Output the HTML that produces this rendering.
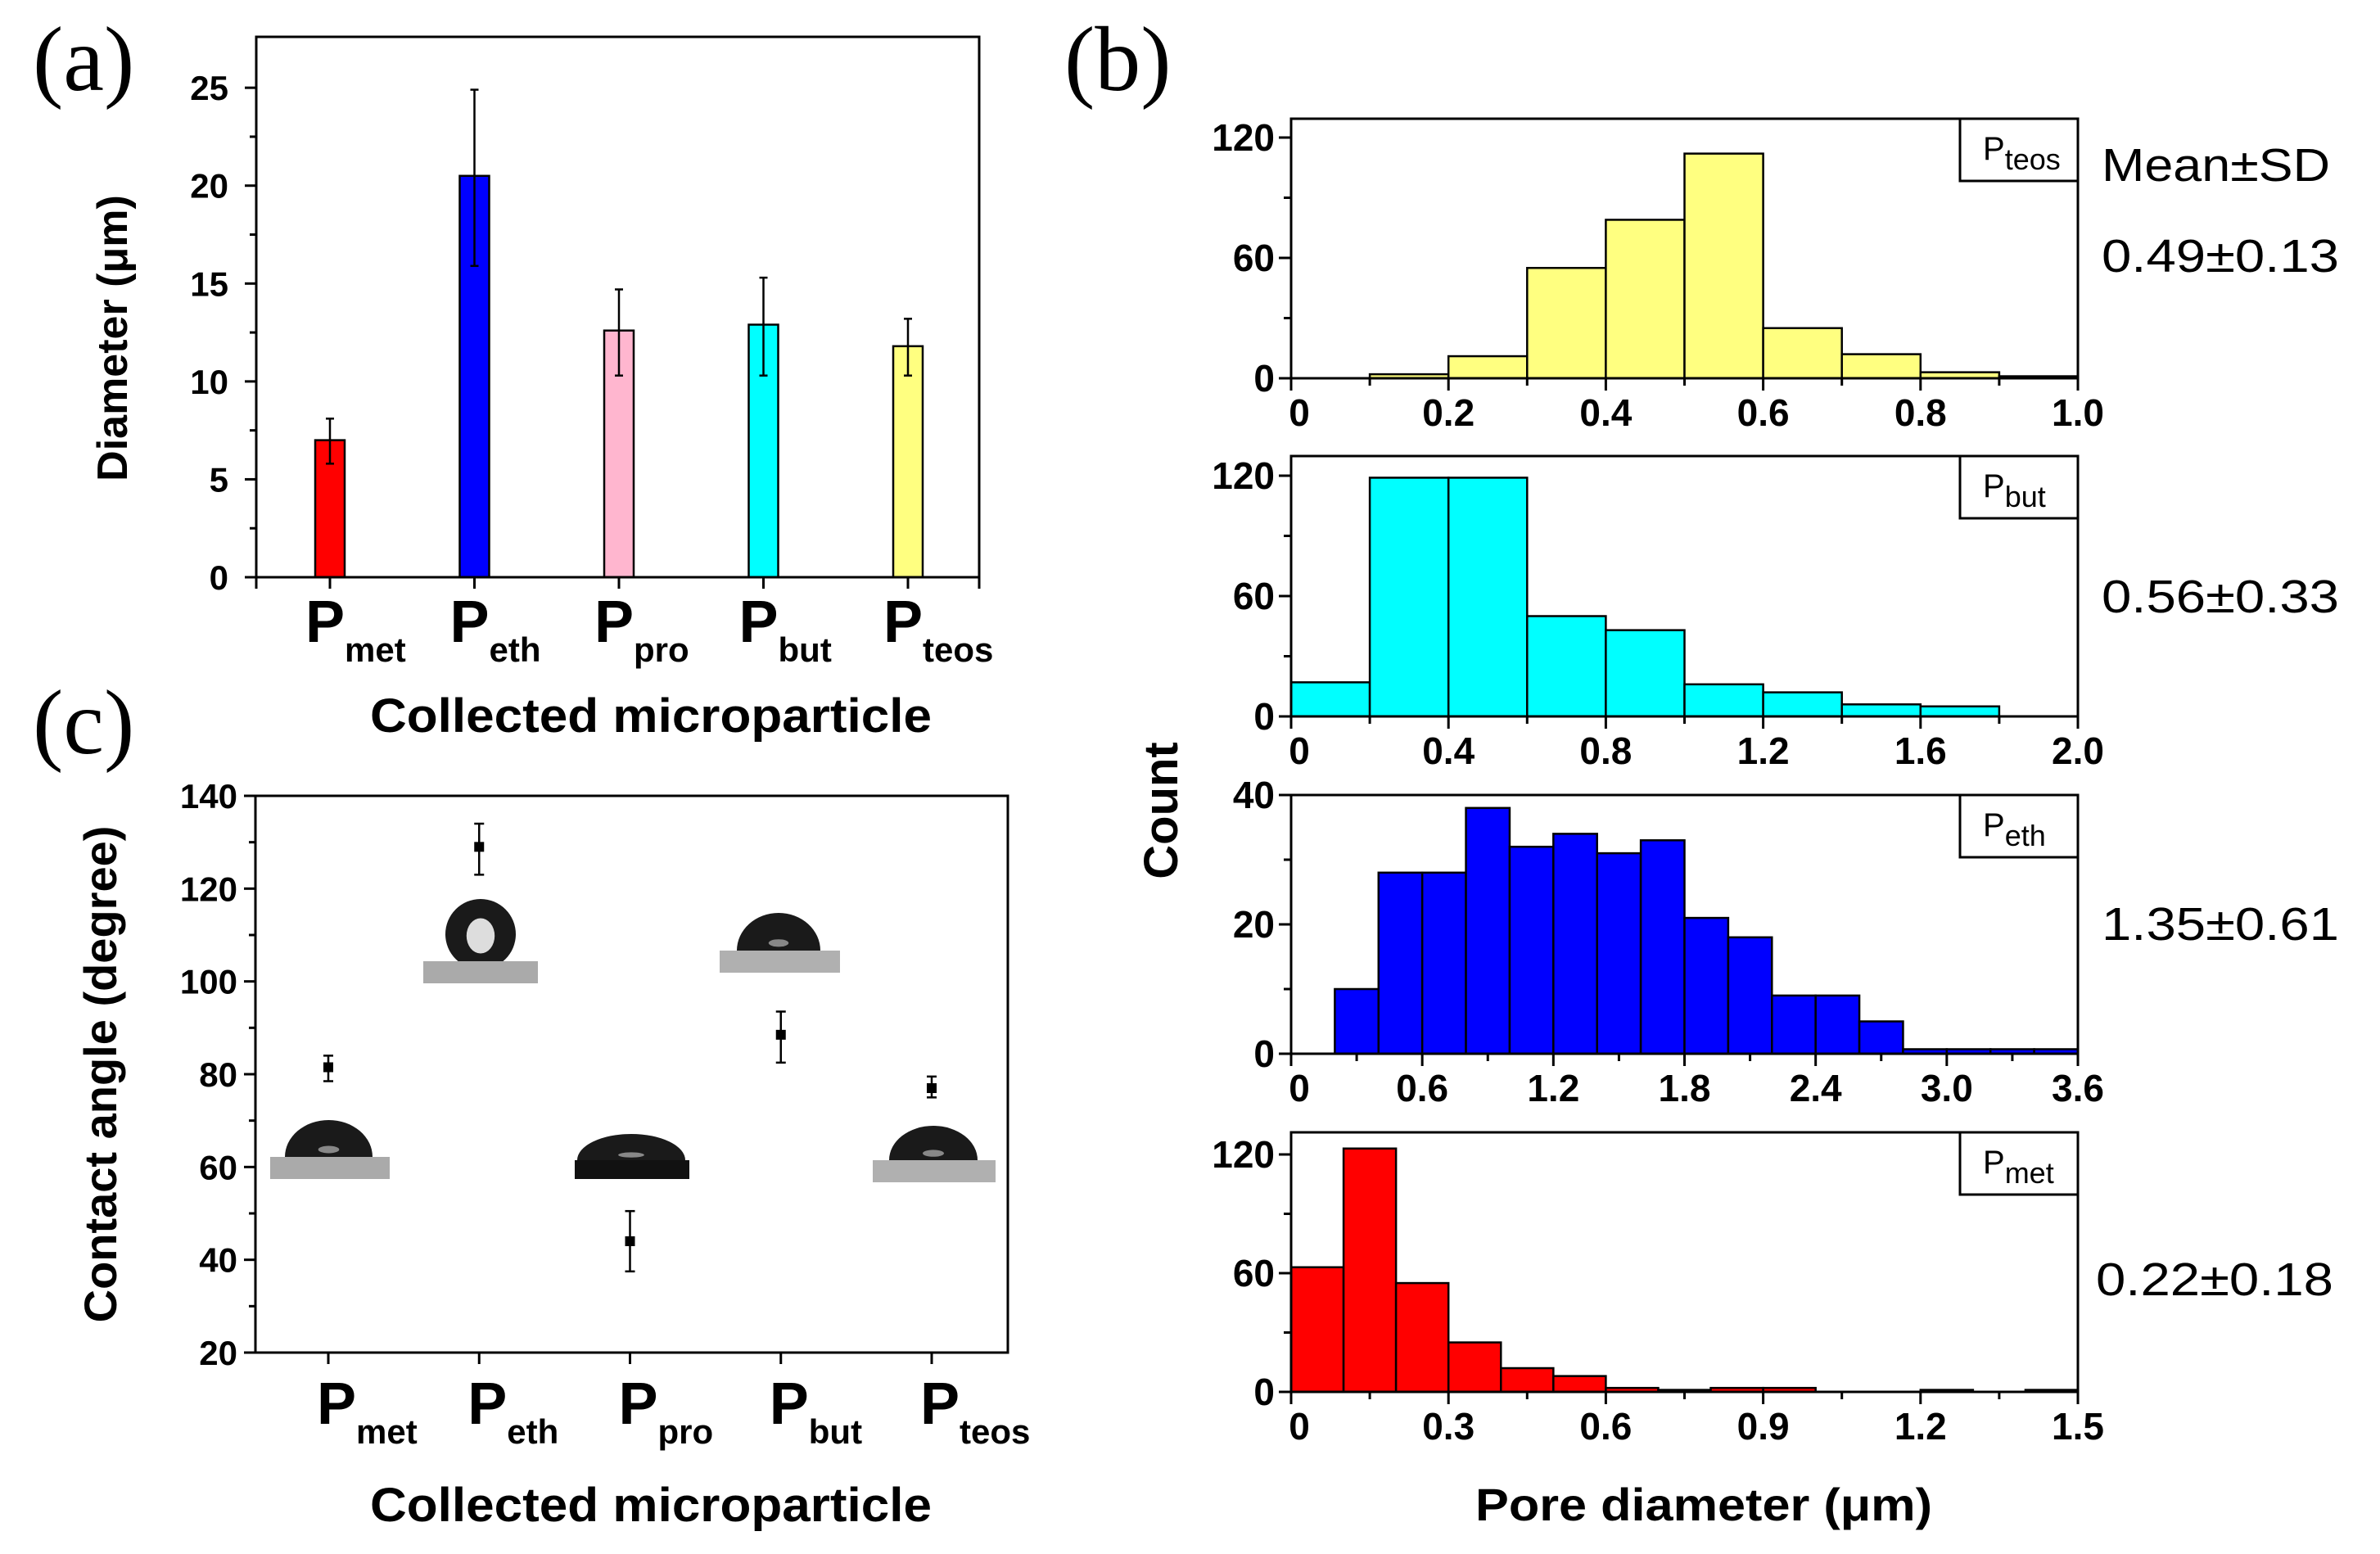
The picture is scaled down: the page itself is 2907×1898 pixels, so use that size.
<!DOCTYPE html>
<html><head><meta charset="utf-8"><style>
body{margin:0;background:#fff}
svg{display:block}
text{font-family:"Liberation Sans",sans-serif}
</style></head><body>
<svg id="fig" width="2907" height="1898" viewBox="0 0 2907 1898" xmlns="http://www.w3.org/2000/svg"></svg>
<script>
// ---- Panel (a) data ----
const aCats = ["met","eth","pro","but","teos"];
const aVals = [7.0, 20.5, 12.6, 12.9, 11.8];
const aHi = [8.1, 24.9, 14.7, 15.3, 13.2];
const aLo = [5.8, 15.9, 10.3, 10.3, 10.3];
const aColors = ["#ff0000","#0000ff","#ffb6cf","#00ffff","#ffff80"];
const aTicks = [0,5,10,15,20,25];
// ---- Panel (c) data ----
const cVals = [81.5, 129, 44, 88.5, 77];
const cHi = [84, 134, 50.5, 93.5, 79.5];
const cLo = [78.5, 123, 37.5, 82.5, 75];
const cTicks = [20,40,60,80,100,120,140];
// ---- Panel (b) histograms ----
const h1Counts = [0, 2, 11, 55, 79, 112, 25, 12, 3, 1];
const h2Counts = [17, 119, 119, 50, 43, 16, 12, 6, 5, 0];
const h3Counts = [0, 10, 28, 28, 38, 32, 34, 31, 33, 21, 18, 9, 9, 5, 0.7, 0.7, 0.7, 0.7];
const h4Counts = [63, 123, 55, 25, 12, 8, 2, 1, 2, 2, 0, 0, 1, 0, 1];
const h1XTicks = ["0","0.2","0.4","0.6","0.8","1.0"];
const h2XTicks = ["0","0.4","0.8","1.2","1.6","2.0"];
const h3XTicks = ["0","0.6","1.2","1.8","2.4","3.0","3.6"];
const h4XTicks = ["0","0.3","0.6","0.9","1.2","1.5"];
const h1YTicks = [0,60,120];
const h2YTicks = [0,60,120];
const h3YTicks = [0,20,40];
const h4YTicks = [0,60,120];
const hNames = ["teos","but","eth","met"];
const hStats = ["0.49±0.13","0.56±0.33","1.35±0.61","0.22±0.18"];

const NS="http://www.w3.org/2000/svg";
const svg=document.getElementById('fig');
function mk(tag,attrs,parent){const e=document.createElementNS(NS,tag);for(const k in attrs)e.setAttribute(k,attrs[k]);(parent||svg).appendChild(e);return e;}
function txt(s,attrs,parent){const e=mk('text',attrs,parent);e.textContent=s;return e;}
function line(x1,y1,x2,y2,w,parent){return mk('line',{x1,y1,x2,y2,stroke:'#000','stroke-width':w||3},parent);}

// ===== Panel (a) =====
const ga=mk('g',{});


const A={l:313,r:1196,t:45,b:705,ymax:27.6};
const ay=v=>A.b-(v/A.ymax)*(A.b-A.t);
const aX=[403,580,756,934,1109];
const axf=i=>aX[0]+i*(aX[4]-aX[0])/(aCats.length-1);
aVals.forEach((v,i)=>{
  const x=axf(i);
  const r=mk('rect',{x:x-18,y:ay(v),width:36,height:ay(0)-ay(v),fill:aColors[i],stroke:'#000','stroke-width':2.5},ga);
  
  
  const eb=mk('g',{},ga);
  
  
  line(x,ay(aHi[i]),x,ay(aLo[i]),2.5,eb);
  line(x-5,ay(aHi[i]),x+5,ay(aHi[i]),2.5,eb);
  line(x-5,ay(aLo[i]),x+5,ay(aLo[i]),2.5,eb);
});
mk('rect',{x:A.l,y:A.t,width:A.r-A.l,height:A.b-A.t,fill:'none',stroke:'#000','stroke-width':3},ga);
aTicks.forEach(t=>{line(A.l-14,ay(t),A.l,ay(t),3,ga);
  const e=txt(String(t),{x:A.l-34,y:ay(t)+15,'text-anchor':'end','font-size':42,'font-weight':'bold'},ga);
  
  if(t<25)line(A.l-8,ay(t+2.5),A.l,ay(t+2.5),3,ga);});
aCats.forEach((c,i)=>{const x=axf(i);line(x,A.b,x,A.b+14,3,ga);
  const e=txt('',{x:x-30,y:784,'font-size':72,'font-weight':'bold'},ga);
  
  const t1=mk('tspan',{},e);t1.textContent='P';
  const t2=mk('tspan',{dy:24,'font-size':42,'font-weight':'bold'},e);t2.textContent=c;});
line(A.l,A.b,A.l,A.b+14,3,ga);line(A.r,A.b,A.r,A.b+14,3,ga);
let e;
e=txt('Diameter (μm)',{x:0,y:0,transform:'translate(155,413) rotate(-90)','text-anchor':'middle','font-size':52,'font-weight':'bold'},ga);

e=txt('Collected microparticle',{x:452,y:894,'font-size':58,'font-weight':'bold',textLength:686,lengthAdjust:'spacingAndGlyphs'},ga);

e=txt('(a)',{x:40,y:110,'font-size':112,style:'font-family:"Liberation Serif",serif'},ga);


// ===== Panel (c) =====
const gc=mk('g',{});


const C={l:312,r:1231,t:972,b:1652,ymin:20,ymax:140};
const cy=v=>C.b-(v-C.ymin)/(C.ymax-C.ymin)*(C.b-C.t);
const cX=[401,586,770,954,1138];
const cxf=i=>cX[0]+i*(cX[4]-cX[0])/(aCats.length-1);
function droplet(name,sx,sy,sw,sh,subFill,capX,capW,capTop,sphere){
  const g=mk('g',{},gc);
  
  
  if(sphere){mk('circle',{cx:capX,cy:capTop+capW/2,r:capW/2,fill:'#1a1a1a'},g);
    mk('ellipse',{cx:capX,cy:capTop+capW/2+2,rx:capW*0.2,ry:capW*0.25,fill:'#ddd'},g);}
  else{const cxm=capX+capW/2,h=sy-capTop;
    mk('path',{d:`M${capX},${sy} A${capW/2},${h} 0 0 1 ${capX+capW},${sy} Z`,fill:'#1a1a1a'},g);
    mk('ellipse',{cx:cxm,cy:sy-h*0.2,rx:capW*0.12,ry:h*0.1,fill:'#888'},g);}
  mk('rect',{x:sx,y:sy,width:sw,height:sh,fill:subFill},g);
}
droplet('met',330,1413,146,27,'#aaaaaa',348,107,1368,false);
droplet('eth',517,1174,140,27,'#aaaaaa',587,86,1098,true);
droplet('pro',702,1417,140,23,'#111111',705,132,1385,false);
droplet('but',879,1161,147,27,'#b0b0b0',900,102,1115,false);
droplet('teos',1066,1417,150,27,'#b0b0b0',1086,108,1375,false);
cVals.forEach((v,i)=>{const x=cxf(i);
  const g=mk('g',{},gc);
  
  
  line(x,cy(cHi[i]),x,cy(cLo[i]),2.5,g);
  line(x-6,cy(cHi[i]),x+6,cy(cHi[i]),2.5,g);
  line(x-6,cy(cLo[i]),x+6,cy(cLo[i]),2.5,g);
  mk('rect',{x:x-6,y:cy(v)-6,width:12,height:12,fill:'#000'},g);});
mk('rect',{x:C.l,y:C.t,width:C.r-C.l,height:C.b-C.t,fill:'none',stroke:'#000','stroke-width':3},gc);
cTicks.forEach(t=>{line(C.l-14,cy(t),C.l,cy(t),3,gc);
  const e=txt(String(t),{x:C.l-22,y:cy(t)+15,'text-anchor':'end','font-size':42,'font-weight':'bold'},gc);
  
  if(t<140)line(C.l-8,cy(t+10),C.l,cy(t+10),3,gc);});
aCats.forEach((c,i)=>{const x=cxf(i);line(x,C.b,x,C.b+14,3,gc);
  const e=txt('',{x:x-14,y:1739,'font-size':72,'font-weight':'bold'},gc);
  
  const t1=mk('tspan',{},e);t1.textContent='P';
  const t2=mk('tspan',{dy:24,'font-size':42,'font-weight':'bold'},e);t2.textContent=c;});
e=txt('Contact angle (degree)',{x:0,y:0,transform:'translate(142,1312) rotate(-90)','text-anchor':'middle','font-size':56,'font-weight':'bold'},gc);

e=txt('Collected microparticle',{x:452,y:1858,'font-size':58,'font-weight':'bold',textLength:686,lengthAdjust:'spacingAndGlyphs'},gc);

e=txt('(c)',{x:40,y:920,'font-size':112,style:'font-family:"Liberation Serif",serif'},gc);


// ===== Panel (b) histograms =====
const gb=mk('g',{});


const H=[
 {counts:h1Counts,xt:h1XTicks,yt:h1YTicks,xmax:1.0,top:145,y0:462,yref:168,yrefv:120,fill:'#ffff80',statY:332},
 {counts:h2Counts,xt:h2XTicks,yt:h2YTicks,xmax:2.0,top:557,y0:875,yref:581,yrefv:120,fill:'#00ffff',statY:748},
 {counts:h3Counts,xt:h3XTicks,yt:h3YTicks,xmax:3.6,top:971,y0:1287,yref:971,yrefv:40,fill:'#0000ff',statY:1148},
 {counts:h4Counts,xt:h4XTicks,yt:h4YTicks,xmax:1.5,top:1383,y0:1700,yref:1410,yrefv:120,fill:'#ff0000',statY:1582}
];
const HL=1577,HR=2538;
H.forEach((h,k)=>{
  const g=mk('g',{},gb);
  
  
  const hx=v=>HL+v/h.xmax*(HR-HL);
  const hy=v=>h.y0-v/h.yrefv*(h.y0-h.yref);
  const bw=h.xmax/h.counts.length;
  h.counts.forEach((c,i)=>{
    const r=mk('rect',{x:hx(i*bw),y:hy(c),width:hx(bw)-hx(0),height:h.y0-hy(c),fill:h.fill,stroke:'#000','stroke-width':2.5},g);
    
    
  });
  mk('rect',{x:HL,y:h.top,width:HR-HL,height:h.y0-h.top,fill:'none',stroke:'#000','stroke-width':3},g);
  const ystep=h.yt[1]-h.yt[0];
  h.yt.forEach((t,i)=>{line(HL-15,hy(t),HL,hy(t),3,g);
    const e=txt(String(t),{x:HL-20,y:hy(t)+16,'text-anchor':'end','font-size':46,'font-weight':'bold'},g);
    
    if(i<h.yt.length-1)line(HL-9,hy(t+ystep/2),HL,hy(t+ystep/2),3,g);});
  const n=h.xt.length-1;
  h.xt.forEach((t,i)=>{const x=HL+i*(HR-HL)/n;line(x,h.y0,x,h.y0+15,3,g);
    const e=txt(t,{x:x+(i==0?10:0),y:h.y0+58,'text-anchor':'middle','font-size':46,'font-weight':'bold'},g);
    
    if(i<n){const xm=HL+(i+0.5)*(HR-HL)/n;line(xm,h.y0,xm,h.y0+9,3,g);}});
  const lg=mk('g',{},g);
  
  
  mk('rect',{x:2394,y:h.top,width:HR-2394,height:76,fill:'#fff',stroke:'#000','stroke-width':3},lg);
  const lt=txt('',{x:2422,y:h.top+50,'font-size':40},lg);
  const p1=mk('tspan',{},lt);p1.textContent='P';
  const p2=mk('tspan',{dy:12,'font-size':36},lt);p2.textContent=hNames[k];
  const st=txt(hStats[k],{x:k==3?2560:2567,y:h.statY,'font-size':57,textLength:290,lengthAdjust:'spacingAndGlyphs'},gb);
  
  
});
e=txt('Mean±SD',{x:2567,y:221,'font-size':57,textLength:279,lengthAdjust:'spacingAndGlyphs'},gb);

e=txt('Count',{x:0,y:0,transform:'translate(1438,990) rotate(-90)','text-anchor':'middle','font-size':58,'font-weight':'bold'},gb);

e=txt('Pore diameter (μm)',{x:1802,y:1857,'font-size':56,'font-weight':'bold',textLength:558,lengthAdjust:'spacingAndGlyphs'},gb);

e=txt('(b)',{x:1300,y:110,'font-size':112,style:'font-family:"Liberation Serif",serif'},gb);

</script>
</body></html>
